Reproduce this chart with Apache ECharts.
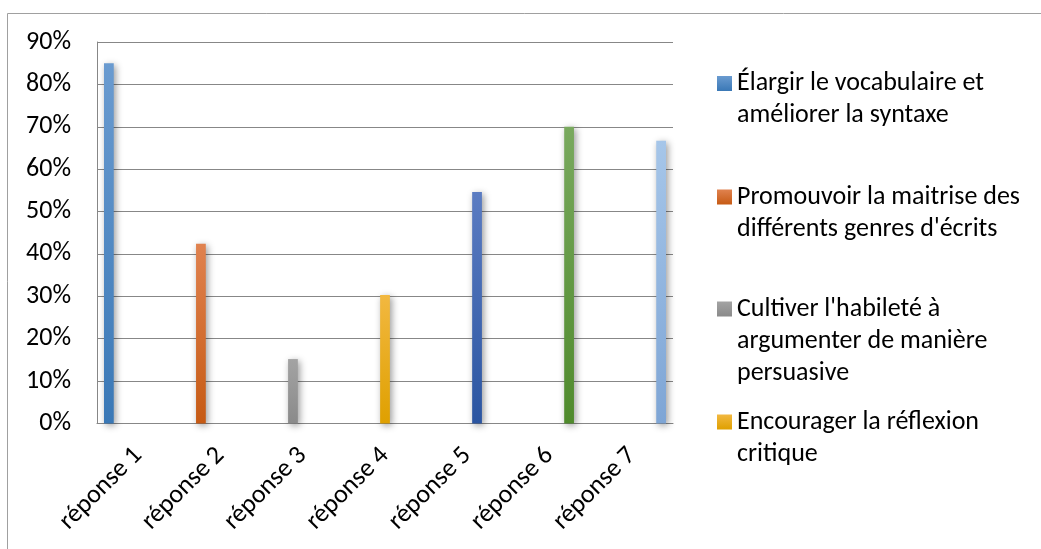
<!DOCTYPE html>
<html>
<head>
<meta charset="utf-8">
<script src="https://cdn.jsdelivr.net/npm/echarts@6/dist/echarts.min.js"></script>
<style>
  html, body { margin: 0; padding: 0; background: #fff; }
  #chart { width: 1041px; height: 549px; }
</style>
</head>
<body>
<div id="chart"></div>
<script>
// Categories along the x axis
const categories = ['réponse 1', 'réponse 2', 'réponse 3', 'réponse 4', 'réponse 5', 'réponse 6', 'réponse 7'];

// One series per answer; each series only has a value in its own category (percent)
const values = [85, 42.4, 15.2, 30.3, 54.6, 70, 66.7];

// Series names (line breaks as shown in the legend)
const seriesNames = [
  'Élargir le vocabulaire et\naméliorer la syntaxe',
  'Promouvoir la maitrise des\ndifférents genres d\'écrits',
  'Cultiver l\'habileté à\nargumenter de manière\npersuasive',
  'Encourager la réflexion\ncritique',
  'Série 5',
  'Série 6',
  'Série 7'
];

// Gradient stops (top, bottom) for each series
const barColors = [
  ['#6a9bd0', '#3a78b6'],
  ['#e0824f', '#c65a14'],
  ['#a3a3a3', '#8a8a8a'],
  ['#f2b840', '#dfa000'],
  ['#5b7cc2', '#2b55a1'],
  ['#79a95e', '#4f8a2c'],
  ['#a6c6e9', '#7ea5d5']
];

// y-axis ticks
const yMin = 0, yMax = 90, yStep = 10;

// Legend entries shown (index into series) and the centre of each marker
const legendShown = [0, 1, 2, 3];
const legendCenters = [83.5, 197, 309, 422];

const FONT = 'Carlito, Calibri, Lato, sans-serif';
const FONT_SIZE = 26;
const LINE_H = 32;
const MARK = 15;

const chart = echarts.init(document.getElementById('chart'), null, { renderer: 'canvas' });

const series = values.map((v, i) => ({
  name: seriesNames[i],
  type: 'bar',
  barGap: '0%',
  barCategoryGap: '17%',
  data: categories.map((c, j) => (j === i ? v : null)),
  itemStyle: {
    color: new echarts.graphic.LinearGradient(0, 0, 0, 1, [
      { offset: 0, color: barColors[i][0] },
      { offset: 1, color: barColors[i][1] }
    ]),
    shadowBlur: 7,
    shadowColor: 'rgba(0,0,0,0.4)',
    shadowOffsetX: 2,
    shadowOffsetY: 2
  },
  emphasis: { disabled: true }
}));

// Each legend entry is its own block; the marker sits beside the first text line.
// The icon path spans the whole text height (two tiny invisible corner specks),
// with the visible square drawn level with line one.
const legends = legendShown.map((si, k) => {
  const lines = seriesNames[si].split('\n').length;
  const h = lines * LINE_H;
  const sq0 = (LINE_H - MARK) / 2;
  const icon = 'path://M0,0L0.01,0L0,0.01Z' +
    'M0,' + sq0 + 'H' + MARK + 'V' + (sq0 + MARK) + 'H0Z' +
    'M' + MARK + ',' + h + 'L' + (MARK - 0.01) + ',' + h + 'L' + MARK + ',' + (h - 0.01) + 'Z';
  return {
    orient: 'vertical',
    left: 717,
    top: legendCenters[k] - LINE_H / 2,
    padding: 0,
    itemWidth: MARK,
    itemHeight: h,
    itemGap: 0,
    selectedMode: false,
    data: [{
      name: seriesNames[si],
      icon: icon,
      itemStyle: {
        color: new echarts.graphic.LinearGradient(0, 0, 0, 1, [
          { offset: 0, color: barColors[si][0] },
          { offset: sq0 / h, color: barColors[si][0] },
          { offset: (sq0 + MARK) / h, color: barColors[si][1] },
          { offset: 1, color: barColors[si][1] }
        ]),
        shadowBlur: 0,
        shadowOffsetX: 0,
        shadowOffsetY: 0
      }
    }],
    textStyle: {
      fontFamily: FONT,
      fontSize: FONT_SIZE,
      color: '#000',
      lineHeight: LINE_H
    }
  };
});

chart.setOption({
  animation: false,
  backgroundColor: '#fff',
  grid: { left: 97, right: 368, top: 42, bottom: 125.5, containLabel: false },
  legend: legends,
  xAxis: {
    type: 'category',
    data: categories,
    axisLine: { show: true, lineStyle: { color: '#878787', width: 1 } },
    axisTick: { show: false },
    axisLabel: {
      rotate: 45,
      margin: 28,
      fontFamily: FONT,
      fontSize: FONT_SIZE,
      color: '#000'
    },
    splitLine: { show: false }
  },
  yAxis: {
    type: 'value',
    min: yMin,
    max: yMax,
    interval: yStep,
    axisLine: { show: true, lineStyle: { color: '#878787', width: 1 } },
    axisTick: { show: false },
    axisLabel: {
      formatter: '{value}%',
      margin: 26,
      fontFamily: FONT,
      fontSize: FONT_SIZE,
      color: '#000'
    },
    splitLine: { show: true, lineStyle: { color: '#878787', width: 1 } }
  },
  graphic: [{
    type: 'rect',
    silent: true,
    shape: { x: 7.5, y: 13.5, width: 2000, height: 2000 },
    style: { fill: 'none', stroke: '#a0a0a0', lineWidth: 1 },
    z: -1
  }],
  series: series
});
</script>
</body>
</html>
